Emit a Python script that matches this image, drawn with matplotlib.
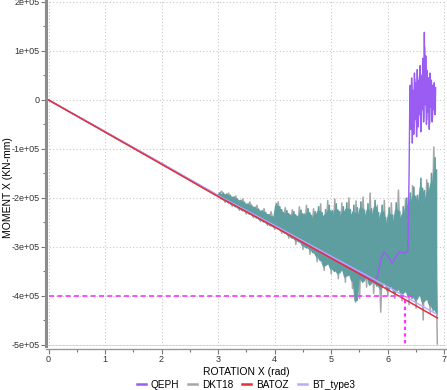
import numpy as np
import matplotlib
matplotlib.use("Agg")
import matplotlib.pyplot as plt
from matplotlib.ticker import MultipleLocator, FuncFormatter

plt.rcParams['font.family'] = ['Liberation Sans', 'DejaVu Sans']

# values in units of 1e5 kN-mm
# straight part (BATOZ / BT_type3 / QEPH before it leaves the line)
line_x = [0, 1, 2, 3, 4, 5, 6, 6.88]
batoz_y = [0, -0.655, -1.31, -1.97, -2.59, -3.23, -3.87, -4.45]
bt3_y = [0, -0.645, -1.295, -1.95, -2.56, -3.19, -3.81, -4.38]

# QEPH: on the line, then wavy, then jumps up
qeph_x = [0, 1, 2, 3, 4, 5, 5.75, 5.78, 5.82, 5.88, 5.94, 6.0, 6.08, 6.14,
          6.2, 6.26, 6.32, 6.36, 6.38, 6.39]
qeph_y = [0, -0.645, -1.295, -1.95, -2.57, -3.21, -3.68, -3.68, -3.60, -3.25,
          -3.10, -3.18, -3.33, -3.22, -3.10, -3.12, -3.13, -3.06, -1.5, -0.3]
qeph_tail = [0.30, -0.60, 0.45, -0.88, 0.20, -0.70, 0.55, -0.40, 0.35, -0.75,
             0.62, -0.55, 0.40, -0.30, 0.70, -0.65, 0.50, -0.20, 0.85, -0.45,
             1.38, -0.10, 0.90, -0.50, 0.60, -0.25, 0.45, -0.60, 0.55, -0.15,
             0.40, -0.45, 0.30, -0.20, 0.35, -0.30, 0.25]

# DKT18 (grey) oscillating after x = 3
dkt_start = [0, 1, 2, 2.95]
dkt_start_y = [0, -0.655, -1.31, -1.94]
dkt_osc = [-1.95, -1.86, -2.09, -1.90, -2.17, -1.96, -2.25, -2.02, -2.33, -2.08,
           -2.40, -2.15, -2.48, -2.22, -2.56, -2.28, -2.64, -2.08, -2.72, -2.20,
           -2.82, -2.24, -2.95, -2.18, -3.05, -2.15, -3.15, -2.22, -3.30, -2.12,
           -3.48, -2.05, -3.55, -2.02, -3.65, -2.10, -3.72, -2.00, -3.85, -2.06,
           -4.05, -1.98, -3.82, -1.90, -3.95, -2.15, -4.33, -2.05, -4.00, -2.10,
           -4.05, -1.84, -4.10, -2.02, -4.18, -1.75, -4.25, -1.90, -4.49, -1.63,
           -4.35, -0.96, -4.98]

# unlabelled teal series
teal_osc = [-1.97, -1.90, -2.02, -1.90, -2.06, -1.92, -2.10, -1.95, -2.14, -1.98,
            -2.18, -2.02, -2.22, -2.05, -2.26, -2.09, -2.29, -2.12, -2.33, -2.15,
            -2.37, -2.19, -2.41, -2.23, -2.45, -2.26, -2.49, -2.30, -2.53, -2.34,
            -2.57, -2.38, -2.60, -2.12, -2.63, -2.18, -2.68, -2.30, -2.72, -2.26,
            -2.77, -2.35, -2.82, -2.28, -2.86, -2.38, -2.90, -2.25, -2.97, -2.33,
            -3.02, -2.22, -3.05, -2.36, -3.12, -2.28, -3.20, -2.18, -3.28, -2.30,
            -3.40, -2.24, -3.35, -2.15, -3.45, -2.26, -3.50, -2.12, -3.55, -2.28,
            -3.48, -2.18, -3.62, -2.10, -3.58, -2.24, -3.70, -2.15, -4.12, -2.20,
            -3.65, -2.08, -3.72, -2.25, -3.60, -2.12, -3.78, -2.22, -3.68, -2.05,
            -3.80, -2.30, -3.86, -2.15, -3.75, -2.40, -3.90, -2.20, -3.82, -2.35,
            -3.95, -2.10, -3.88, -2.28, -3.98, -2.18, -3.92, -2.00, -4.02, -1.90,
            -4.05, -1.78, -4.10, -1.95, -4.00, -1.60, -4.15, -1.85, -4.08, -1.70,
            -4.20, -1.50, -4.30, -1.18, -4.38]

ref_y = -4.0
ref_x = 6.3
ref_x_end = 6.47

yticks = [-5, -4, -3, -2, -1, 0, 1, 2]

scale = 1e5


def band(vals):
    # min / max of each point and its two neighbours -> solid band
    p = np.pad(np.asarray(vals), 1, mode='edge')
    lo = np.minimum(np.minimum(p[:-2], p[1:-1]), p[2:])
    hi = np.maximum(np.maximum(p[:-2], p[1:-1]), p[2:])
    return lo, hi


fig = plt.figure(figsize=(4.47, 3.90), dpi=100)
ax = fig.add_axes([0.103, 0.113, 0.895, 0.887])

c_qeph = '#9a5cf2'
c_dkt = '#a6a6a6'
c_batoz = '#e3303a'
c_bt3 = '#b9a9ff'
c_teal = '#5f9ea0'

dkt_x = np.concatenate([dkt_start, np.linspace(3.0, 6.88, len(dkt_osc))])
dkt_y = np.concatenate([dkt_start_y, dkt_osc])
teal_x = np.linspace(3.0, 6.87, len(teal_osc))
tail_x = np.linspace(6.40, 6.85, len(qeph_tail))
qx = np.concatenate([qeph_x, tail_x])
qy = np.concatenate([qeph_y, qeph_tail])

ax.plot(dkt_x, dkt_y * scale, color=c_dkt, lw=1.1, zorder=2)

# teal: solid core (spikes left to the zigzag line) + the line itself
t_lo, t_hi = band(teal_osc)
ax.fill_between(teal_x, (t_lo + 0.015 * (t_hi - t_lo)) * scale,
                (t_hi - 0.07 * (t_hi - t_lo)) * scale,
                color=c_teal, lw=0, zorder=3)
ax.plot(teal_x, np.array(teal_osc) * scale, color=c_teal, lw=1.2, zorder=3)

q_lo, q_hi = band(qeph_tail)
ax.fill_between(tail_x, q_lo * scale * 0.8, q_hi * scale * 0.8,
                color=c_bt3, lw=0, zorder=4)
ax.plot(qx, qy * scale, color=c_qeph, lw=1.0, zorder=4)
ax.plot(line_x, np.array(bt3_y) * scale, color=c_bt3, lw=1.0, zorder=5)
ax.plot(line_x, np.array(batoz_y) * scale, color=c_batoz, lw=1.1, zorder=6)

ax.plot([0, ref_x_end], [ref_y * scale] * 2, color='#ff33ff', lw=1.2,
        ls=(0, (3, 2)), zorder=7)
ax.plot([ref_x, ref_x], [-5.1 * scale, ref_y * scale], color='#ff33ff', lw=1.6,
        ls=(0, (1.5, 1.5)), zorder=7)

ax.set_xlim(-0.044, 7.035)
ax.set_ylim(-5.02 * scale, 2.04 * scale)

ax.xaxis.set_major_locator(MultipleLocator(1))
ax.xaxis.set_minor_locator(MultipleLocator(0.5))
ax.set_yticks([v * scale for v in yticks])
ax.yaxis.set_minor_locator(MultipleLocator(0.5 * scale))


def fmt(v, pos):
    if abs(v) < 1:
        return '0'
    return '%.0e' % v


ax.yaxis.set_major_formatter(FuncFormatter(fmt))
ax.grid(True, which='major', color='#c8c8c8', ls=(0, (1, 2)), lw=0.8)

for s in ['top', 'right']:
    ax.spines[s].set_visible(False)
ax.spines['left'].set_color('#8c8c8c')
ax.spines['left'].set_linewidth(2.2)
ax.spines['bottom'].set_color('#999999')
ax.spines['bottom'].set_linewidth(1.0)
ax.spines['bottom'].set_position(('outward', 2))
ax.axhline(-5.02 * scale, color='#cfe0ea', lw=2.0, zorder=1)

ax.tick_params(axis='both', which='major', length=3.5, width=0.8, color='#777777',
               labelsize=6.5, labelcolor='#333333', pad=1)
ax.tick_params(axis='both', which='minor', length=2.5, width=0.8, color='#777777')

ax.set_xlabel('ROTATION X (rad)', fontsize=7.5)
ax.xaxis.set_label_coords(0.5, -0.062)
ax.set_ylabel('MOMENT X (KN-mm)', fontsize=7.5)
ax.yaxis.set_label_coords(-0.083, 0.457)

handles = [plt.Line2D([], [], color=c, lw=1.8) for c in [c_qeph, c_dkt, c_batoz, c_bt3]]
fig.legend(handles, ['QEPH', 'DKT18', 'BATOZ', 'BT_type3'], loc='lower center',
           bbox_to_anchor=(0.55, -0.022), ncol=4, frameon=False, fontsize=7.2,
           handlelength=0.9, handletextpad=0.5, columnspacing=0.9)

fig.savefig('out.png', dpi=100)
